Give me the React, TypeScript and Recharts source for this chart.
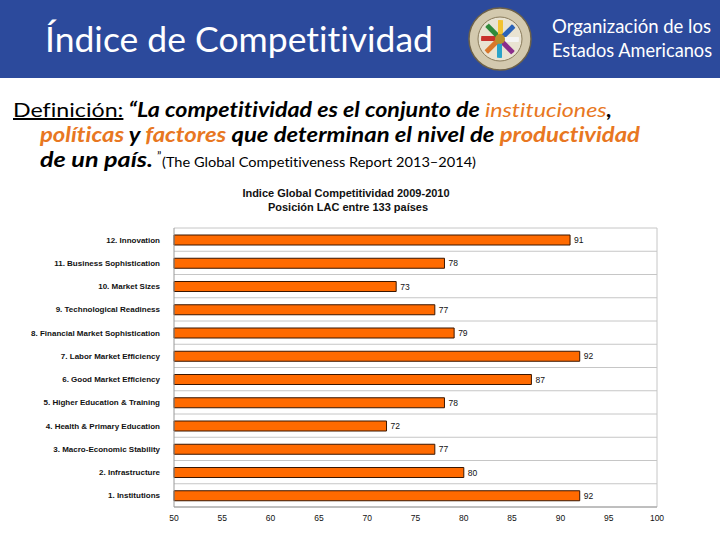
import React from "react";
import {
  BarChart,
  Bar,
  XAxis,
  YAxis,
  CartesianGrid,
  LabelList,
} from "recharts";

// pillars, top row first (as drawn)
const pillars = [
  "12. Innovation",
  "11. Business Sophistication",
  "10. Market Sizes",
  "9. Technological Readiness",
  "8. Financial Market Sophistication",
  "7. Labor Market Efficiency",
  "6. Good Market Efficiency",
  "5. Higher Education & Training",
  "4. Health & Primary Education",
  "3. Macro-Economic Stability",
  "2. Infrastructure",
  "1. Institutions",
];

const positions = [91, 78, 73, 77, 79, 92, 87, 78, 72, 77, 80, 92];

const xTicks = [50, 55, 60, 65, 70, 75, 80, 85, 90, 95, 100];

const data = pillars.map((name, i) => ({ name, value: positions[i] }));

const BLUE = "#2c4a9c";
const ORANGE = "#e87722";
const ARIAL = "'Liberation Sans', Arial, sans-serif";
const HUMAN = "Lato, 'Open Sans', sans-serif";
const noLig = {
  fontVariantLigatures: "none",
  fontFeatureSettings: '"liga" 0, "clig" 0, "dlig" 0',
} as React.CSSProperties;

function Logo() {
  const colors = ["#c9302c", "#2f8a3a", "#f2c230", "#2a62b8", "#f4f4f4", "#8b2d8b", "#29a3c9", "#d9772b"];
  return (
    <g transform="translate(500,39)">
      <circle r={31} fill="#d3c9ae" stroke="#6e6248" strokeWidth={1.5} />
      <circle r={22} fill="#e9e3d2" stroke="#8a7c5c" strokeWidth={1} />
      <clipPath id="inner">
        <circle r={19} />
      </clipPath>
      <g clipPath="url(#inner)">
        <rect x={-19} y={-19} width={38} height={38} fill="#e9e3d2" />
        {colors.map((c, i) => (
          <rect key={i} x={-22} y={-3} width={22} height={5} fill={c} transform={`rotate(${i * 45})`} />
        ))}
        <circle r={5} fill="#b8902e" />
      </g>
    </g>
  );
}

function Slide() {
  return (
    <svg width={720} height={540} style={{ position: "absolute", left: 0, top: 0, ...noLig }}>
      <rect x={0} y={0} width={720} height={78} fill={BLUE} />
      <text x={45} y={52} fill="#fff" fontFamily={HUMAN} fontSize={34} textLength={388} lengthAdjust="spacingAndGlyphs" style={noLig}>
        Índice de Competitividad
      </text>
      <Logo />
      <text x={552} y={33} fill="#fff" fontFamily={HUMAN} fontSize={19} textLength={159} lengthAdjust="spacingAndGlyphs">
        Organización de los
      </text>
      <text x={552} y={57} fill="#fff" fontFamily={HUMAN} fontSize={19} textLength={160} lengthAdjust="spacingAndGlyphs">
        Estados Americanos
      </text>

      <text x={13} y={117} fontFamily={HUMAN} fontSize={20} textLength={599} lengthAdjust="spacingAndGlyphs" fill="#000" style={noLig}>
        <tspan textDecoration="underline">Definición:</tspan>
        <tspan fontWeight="bold" fontStyle="italic"> “La competitividad es el conjunto de </tspan>
        <tspan fontStyle="italic" fill={ORANGE}>instituciones</tspan>
        <tspan fontWeight="bold" fontStyle="italic">,</tspan>
      </text>
      <text x={40} y={142} fontFamily={HUMAN} fontSize={20} fontStyle="italic" textLength={600} lengthAdjust="spacingAndGlyphs" fill="#000" style={noLig}>
        <tspan fontWeight="bold" fill={ORANGE}>políticas</tspan>
        <tspan fontWeight="bold"> y </tspan>
        <tspan fontWeight="bold" fill={ORANGE}>factores</tspan>
        <tspan fontWeight="bold"> que determinan el nivel de </tspan>
        <tspan fontWeight="bold" fill={ORANGE}>productividad</tspan>
      </text>
      <text x={40} y={167} fontFamily={HUMAN} fontSize={20} fontWeight="bold" fontStyle="italic" textLength={113} lengthAdjust="spacingAndGlyphs" fill="#000">
        de un país.
      </text>
      <text x={157} y={160} fontFamily={HUMAN} fontSize={12} fill="#000">”</text>
      <text x={162} y={167} fontFamily={HUMAN} fontSize={14} textLength={314} lengthAdjust="spacingAndGlyphs" fill="#000" style={noLig}>
        (The Global Competitiveness Report 2013–2014)
      </text>

      <text x={346} y={197} textAnchor="middle" fontFamily={ARIAL} fontSize={11} fontWeight="bold" fill="#111">
        Indice Global Competitividad 2009-2010
      </text>
      <text x={348} y={211} textAnchor="middle" fontFamily={ARIAL} fontSize={11} fontWeight="bold" fill="#111">
        Posición LAC entre 133 países
      </text>
    </svg>
  );
}

function PillarTick({ x, y, payload }: any) {
  return (
    <text x={x - 6} y={y} dy={3} textAnchor="end" fontFamily={ARIAL} fontSize={8} fontWeight="bold" fill="#111">
      {payload.value}
    </text>
  );
}

export default function App() {
  return (
    <div style={{ position: "absolute", left: 0, top: 0, width: 720, height: 540, background: "#fff" }}>
      <Slide />
      <div style={{ position: "absolute", left: 0, top: 0 }}>
        <BarChart
          width={720}
          height={540}
          data={data}
          layout="vertical"
          margin={{ top: 228, right: 63, bottom: 13, left: 0 }}
          barCategoryGap={0}
        >
          <CartesianGrid
            stroke="#c6c6c6"
            horizontalCoordinatesGenerator={({ offset }: any) =>
              pillars.map((_, i) => offset.top + (offset.height * i) / pillars.length).concat(offset.top + offset.height)
            }
            verticalCoordinatesGenerator={({ offset }: any) => [offset.left + offset.width]}
          />
          <XAxis
            type="number"
            domain={[50, 100]}
            ticks={xTicks}
            interval={0}
            height={20}
            axisLine={{ stroke: "#9a9a9a" }}
            tickLine={false}
            tick={{ fontSize: 8.5, fill: "#111", fontFamily: ARIAL }}
          />
          <YAxis
            type="category"
            dataKey="name"
            width={174}
            interval={0}
            axisLine={{ stroke: "#9a9a9a" }}
            tickLine={false}
            tick={<PillarTick />}
          />
          <Bar dataKey="value" fill="#ff6a00" stroke="#3a1600" strokeWidth={1} barSize={10} isAnimationActive={false}>
            <LabelList dataKey="value" position="right" offset={4} style={{ fontSize: 8.5, fill: "#111", fontFamily: ARIAL }} />
          </Bar>
        </BarChart>
      </div>
    </div>
  );
}
